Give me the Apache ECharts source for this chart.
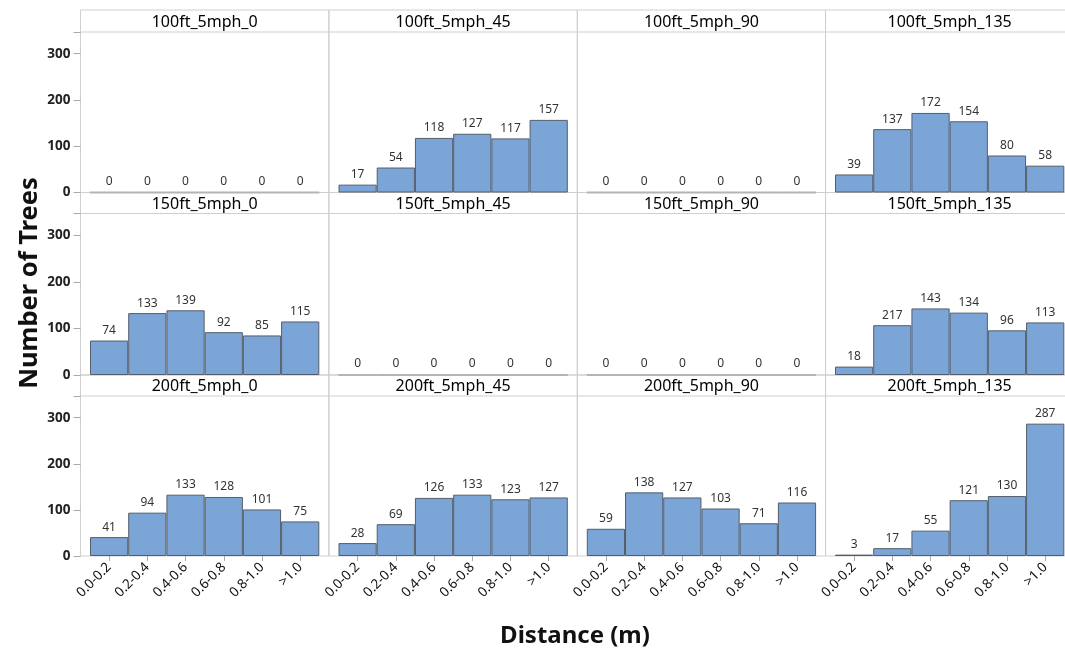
<!DOCTYPE html>
<html><head><meta charset="utf-8">
<script src="https://cdn.jsdelivr.net/npm/echarts@6/dist/echarts.min.js"></script>
<style>html,body{margin:0;padding:0;background:#fff}#c{width:1065px;height:654px}</style>
</head><body><div id="c"></div>
<script>
// ---- data ----
const categories = ['0.0-0.2', '0.2-0.4', '0.4-0.6', '0.6-0.8', '0.8-1.0', '>1.0'];
const yTickMax = 347;
const yTickStep = 100;
const titles = [
  '100ft_5mph_0', '100ft_5mph_45', '100ft_5mph_90', '100ft_5mph_135',
  '150ft_5mph_0', '150ft_5mph_45', '150ft_5mph_90', '150ft_5mph_135',
  '200ft_5mph_0', '200ft_5mph_45', '200ft_5mph_90', '200ft_5mph_135'
];
const v100_0   = [0, 0, 0, 0, 0, 0];
const v100_45  = [17, 54, 118, 127, 117, 157];
const v100_90  = [0, 0, 0, 0, 0, 0];
const v100_135 = [39, 137, 172, 154, 80, 58];
const v150_0   = [74, 133, 139, 92, 85, 115];
const v150_45  = [0, 0, 0, 0, 0, 0];
const v150_90  = [0, 0, 0, 0, 0, 0];
const v150_135 = [18, 107, 143, 134, 96, 113];   // bar heights as drawn
const l150_135 = [18, 217, 143, 134, 96, 113];   // labels as printed
const v200_0   = [41, 94, 133, 128, 101, 75];
const v200_45  = [28, 69, 126, 133, 123, 127];
const v200_90  = [59, 138, 127, 103, 71, 116];
const v200_135 = [3, 17, 55, 121, 130, 287];

const panelValues = [v100_0, v100_45, v100_90, v100_135, v150_0, v150_45, v150_90, v150_135, v200_0, v200_45, v200_90, v200_135];
const panelLabels = [v100_0, v100_45, v100_90, v100_135, v150_0, v150_45, v150_90, l150_135, v200_0, v200_45, v200_90, v200_135];

// ---- layout ----
const colLeft = [80.5, 329, 577.3, 825.5];
const colW = 248.3;
const stripTop = [10, 192.5, 375];
const stripBottom = [32, 213.5, 396];
const plotBottom = [192.5, 375, 556];
const inset = 9.5;
const border = '#cfcfcf';
const FONT = '"Noto Sans", "Open Sans", sans-serif';

const grid = [], xAxis = [], yAxis = [], series = [], graphic = [];
for (let i = 0; i < 12; i++) {
  const r = Math.floor(i / 4), c = i % 4;
  grid.push({
    left: colLeft[c] + inset, width: colW - 2 * inset,
    top: stripBottom[r], height: plotBottom[r] - stripBottom[r]
  });
  const bottomRow = r === 2, leftCol = c === 0;
  xAxis.push({
    type: 'category', gridIndex: i, data: categories,
    axisLine: { show: false },
    axisTick: { show: bottomRow, alignWithLabel: true, length: 5, lineStyle: { color: '#aaa' } },
    axisLabel: { show: bottomRow, rotate: 45, fontSize: 13.5, color: '#111', fontFamily: FONT, margin: 9, interval: 0 }
  });
  yAxis.push({
    type: 'value', gridIndex: i, min: 0, max: yTickMax, interval: yTickStep,
    offset: leftCol ? inset : 0,
    splitLine: { show: false },
    axisLine: { show: false },
    axisTick: { show: leftCol, length: 7, lineStyle: { color: '#aaa' } },
    axisLabel: { show: leftCol, fontSize: 13.5, fontWeight: 'bold', color: '#222', fontFamily: FONT, margin: 10,
      formatter: v => (v % 100 === 0 ? String(v) : '') }
  });
  const vals = panelValues[i], labs = panelLabels[i];
  series.push({
    type: 'bar', xAxisIndex: i, yAxisIndex: i, barCategoryGap: '0%',
    data: vals.map(v => v === 0
      ? { value: v, itemStyle: { borderColor: '#b4b4b4', borderWidth: 2 } }
      : { value: v }),
    itemStyle: { color: '#7BA4D7', borderColor: '#555e68', borderWidth: 1 },
    label: { show: true, position: 'top', distance: 4, fontSize: 12, color: '#333', fontFamily: FONT,
      formatter: p => String(labs[p.dataIndex]) },
    animation: false
  });
  // panel frame + strip
  graphic.push({
    type: 'rect', silent: true, z: -1,
    shape: { x: colLeft[c], y: stripTop[r], width: colW, height: plotBottom[r] - stripTop[r] },
    style: { fill: 'none', stroke: border, lineWidth: 1 }
  });
  graphic.push({
    type: 'line', silent: true,
    shape: { x1: colLeft[c], y1: stripBottom[r], x2: colLeft[c] + colW, y2: stripBottom[r] },
    style: { stroke: border, lineWidth: 1 }
  });
  graphic.push({
    type: 'text', silent: true,
    x: colLeft[c] + colW / 2, y: (stripTop[r] + stripBottom[r]) / 2 + 1,
    style: { text: titles[i], align: 'center', verticalAlign: 'middle', fontSize: 16, fill: '#000', fontFamily: FONT }
  });
}
graphic.push({
  type: 'text', silent: true, x: 30, y: 283, rotation: Math.PI / 2,
  style: { text: 'Number of Trees', align: 'center', verticalAlign: 'middle', fontSize: 25.5, fontWeight: 'bold', fill: '#111', fontFamily: FONT }
});
graphic.push({
  type: 'text', silent: true, x: 575, y: 636,
  style: { text: 'Distance (m)', align: 'center', verticalAlign: 'middle', fontSize: 24, fontWeight: 'bold', fill: '#111', fontFamily: FONT }
});

const chart = echarts.init(document.getElementById('c'), null, { renderer: 'canvas' });
chart.setOption({ backgroundColor: '#fff', animation: false, grid, xAxis, yAxis, series, graphic });
</script>
</body></html>
